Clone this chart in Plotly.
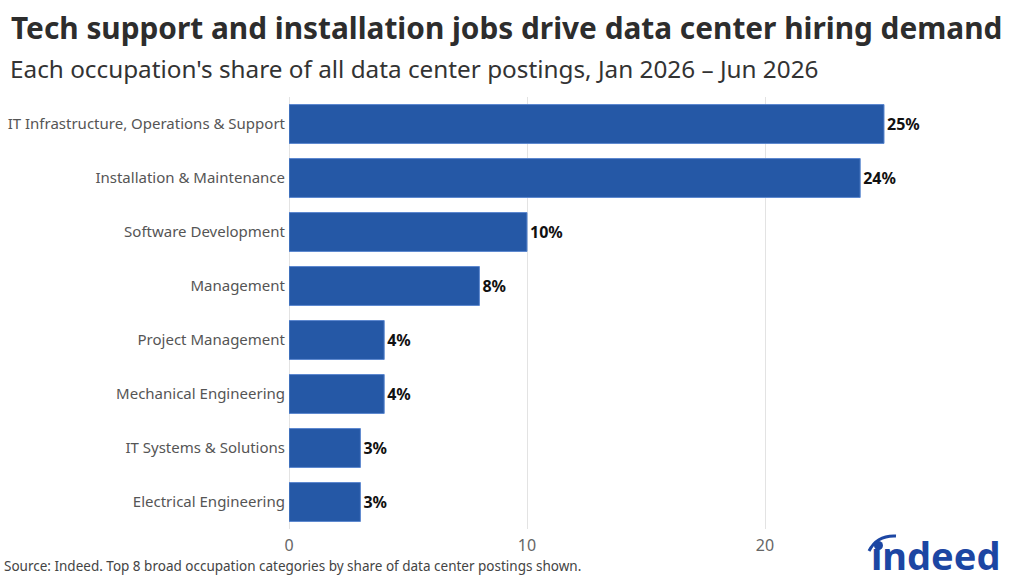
import plotly.graph_objects as go

categories = [
    "IT Infrastructure, Operations & Support",
    "Installation & Maintenance",
    "Software Development",
    "Management",
    "Project Management",
    "Mechanical Engineering",
    "IT Systems & Solutions",
    "Electrical Engineering",
]
shares = [25.0, 24.0, 10.0, 8.0, 4.0, 4.0, 3.0, 3.0]
x_ticks = [0, 10, 20]

W, H = 1024, 585
L, R, T, B = 289, 24, 97, 56
PW, PH = W - L - R, H - T - B

def px(x):
    return (x - L) / PW

def py(y):
    return 1 - (y - T) / PH

FONT = "Noto Sans"

fig = go.Figure(
    go.Bar(
        y=categories,
        x=shares,
        orientation="h",
        marker=dict(color="#2558a6", line=dict(color="#5b87cf", width=1)),
        text=[f"<b>{v:.0f}%</b>" for v in shares],
        textposition="outside",
        textfont=dict(family=FONT, size=16, color="#111111"),
        cliponaxis=False,
        hoverinfo="skip",
    )
)

fig.update_layout(
    width=W,
    height=H,
    margin=dict(l=L, r=R, t=T, b=B, autoexpand=False),
    paper_bgcolor="white",
    plot_bgcolor="white",
    bargap=0.28,
    showlegend=False,
    font=dict(family=FONT, color="#444444"),
    xaxis=dict(
        range=[0, PW / 23.8],
        tickvals=x_ticks,
        ticktext=[str(t) for t in x_ticks],
        showgrid=True,
        gridcolor="#e3e3e3",
        gridwidth=1,
        zeroline=True,
        zerolinecolor="#e3e3e3",
        zerolinewidth=1,
        tickfont=dict(size=16, color="#666666"),
        ticks="",
        ticklabelstandoff=5,
        showline=False,
        automargin=False,
    ),
    yaxis=dict(
        autorange="reversed",
        tickfont=dict(size=15, color="#555555"),
        ticks="",
        ticklabelstandoff=3,
        showgrid=False,
        automargin=False,
    ),
)

fig.add_annotation(
    x=px(9), y=py(28), xref="paper", yref="paper",
    text="<b>Tech support and installation jobs drive data center hiring demand</b>",
    showarrow=False, xanchor="left", yanchor="middle",
    font=dict(family=FONT, size=29.8, color="#2d2d2d"),
)
fig.add_annotation(
    x=px(8), y=py(69), xref="paper", yref="paper",
    text="Each occupation's share of all data center postings, Jan 2026 \u2013 Jun 2026",
    showarrow=False, xanchor="left", yanchor="middle",
    font=dict(family=FONT, size=24.3, color="#333333"),
)
fig.add_annotation(
    x=px(2), y=py(566), xref="paper", yref="paper",
    text="Source: Indeed. Top 8 broad occupation categories by share of data center postings shown.",
    showarrow=False, xanchor="left", yanchor="middle",
    font=dict(family=FONT, size=13.5, color="#444444"),
)
fig.add_annotation(
    x=px(1002), y=py(555), xref="paper", yref="paper",
    text="<b>\u0131ndeed</b>",
    showarrow=False, xanchor="right", yanchor="middle",
    font=dict(family=FONT, size=38, color="#1c46a3"),
)
fig.add_shape(
    type="path", xref="paper", yref="paper",
    path=f"M {px(869)} {py(551)} Q {px(877)} {py(535)} {px(896)} {py(536)}",
    line=dict(color="#1c46a3", width=3),
)
fig.add_shape(
    type="circle", xref="paper", yref="paper",
    x0=px(874), x1=px(883), y0=py(541), y1=py(550),
    fillcolor="#1c46a3", line=dict(width=0),
)

fig.write_html("out.html")
